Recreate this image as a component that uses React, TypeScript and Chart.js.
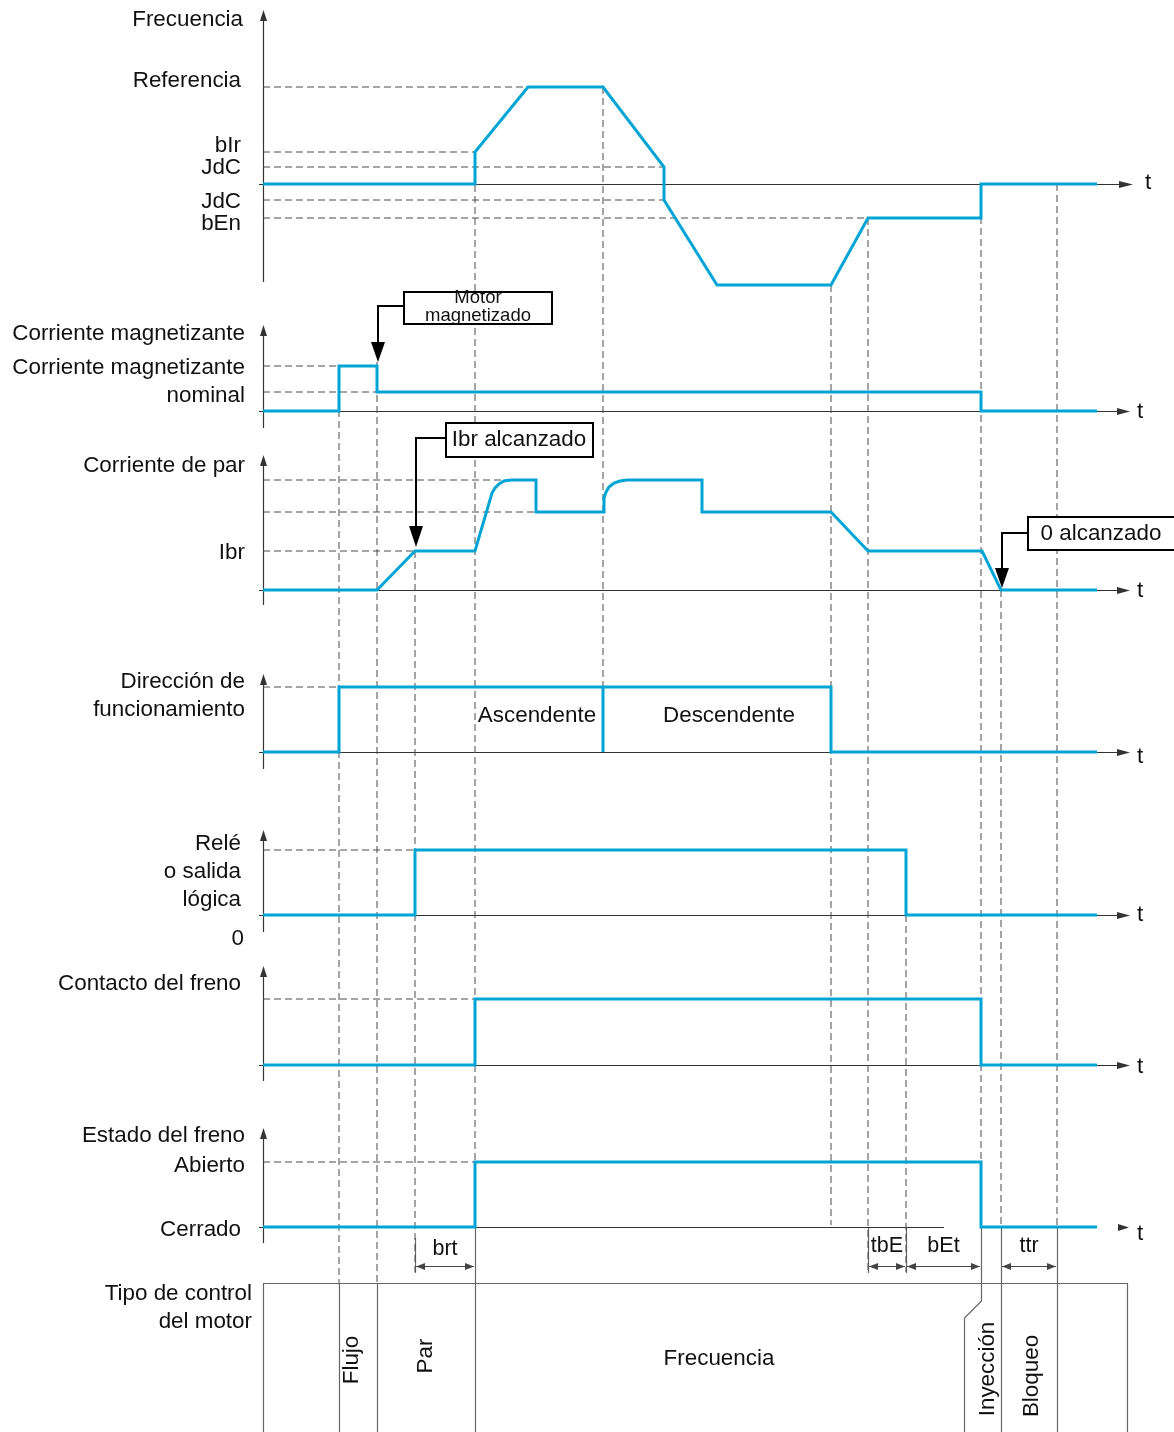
import React, { useEffect, useRef } from "react";
import { Chart, registerables } from "chart.js";
Chart.register(...registerables);

const W = 1174;
const H = 1432;
const BLUE = "#00a5d6";
const AXIS = "#333333";
const GUIDE = "#4a4a4a";
const FONT = '"Liberation Sans", Arial, Helvetica, sans-serif';
const LABEL_SIZE = 22.4;

// ---------------- data (time axis units, levels relative to each panel's zero) ----------------
const frequencyTimes = [263, 475, 475, 528, 603, 664, 664, 717, 831, 868, 981, 981, 1097];
const frequencyValues = [0, 0, 32, 97, 97, 17, -16, -101, -101, -34, -34, 0, 0];

const magnetizingTimes = [263, 339, 339, 377, 377, 981, 981, 1097];
const magnetizingValues = [0, 0, 45, 45, 19, 19, 0, 0];

const torqueTimes = [263, 377, 415, 475, 492, 495, 499, 504, 511, 536, 536, 604, 604, 606, 609, 614, 620, 627, 702, 702, 831, 868, 982, 1001, 1097];
const torqueValues = [0, 0, 39, 39, 97, 102, 106, 109, 110, 110, 78, 78, 92, 98, 103, 107, 109, 110, 110, 78, 78, 39, 39, 0, 0];

const directionTimes = [263, 339, 339, 831, 831, 1097];
const directionValues = [0, 0, 65, 65, 0, 0];
const directionChangeTimes = [603, 603];
const directionChangeValues = [65, 0];

const relayTimes = [263, 415, 415, 906, 906, 1097];
const relayValues = [0, 0, 65, 65, 0, 0];

const brakeContactTimes = [263, 475, 475, 981, 981, 1097];
const brakeContactValues = [0, 0, 66, 66, 0, 0];

const brakeStateTimes = [263, 475, 475, 981, 981, 1097];
const brakeStateValues = [0, 0, 65, 65, 0, 0];

// reference levels (dashed) per panel: level and time where the dashed guide ends
const frequencyGuideLevels = [97, 32, 17, -16, -34];
const frequencyGuideEnds = [528, 475, 664, 664, 868];
const magnetizingGuideLevels = [45, 19];
const magnetizingGuideEnds = [339, 377];
const torqueGuideLevels = [110, 78, 39];
const torqueGuideEnds = [520, 536, 415];
const directionGuideLevels = [65];
const directionGuideEnds = [339];
const relayGuideLevels = [65];
const relayGuideEnds = [415];
const brakeContactGuideLevels = [66];
const brakeContactGuideEnds = [475];
const brakeStateGuideLevels = [65];
const brakeStateGuideEnds = [475];

// event instants (vertical dashed lines)
const eventTimes = [339, 377, 415, 475, 603, 831, 868, 906, 981, 1001, 1057];

// texts
const frequencyLabels = ["Frecuencia", "Referencia", "bIr", "JdC", "JdC", "bEn"];
const magnetizingLabels = ["Corriente magnetizante", "Corriente magnetizante", "nominal"];
const torqueLabels = ["Corriente de par", "Ibr"];
const directionLabels = ["Dirección de", "funcionamiento"];
const relayLabels = ["Relé", "o salida", "lógica", "0"];
const brakeContactLabels = ["Contacto del freno"];
const brakeStateLabels = ["Estado del freno", "Abierto", "Cerrado"];
const controlLabels = ["Tipo de control", "del motor"];
const directionPhaseLabels = ["Ascendente", "Descendente"];
const dimensionLabels = ["brt", "tbE", "bEt", "ttr"];
const dimensionStarts = [415, 868, 906, 1001];
const dimensionEnds = [475, 906, 981, 1057];
const controlModeLabels = ["Flujo", "Par", "Inyección", "Bloqueo"];
const controlModeCenterLabel = "Frecuencia";
const annotationTexts = [["Motor", "magnetizado"], ["Ibr alcanzado"], ["0 alcanzado"]];

// ---------------- layout (positions only) ----------------
const AXIS_X = 263;
const panelBaselines = [184, 411, 590, 752, 915, 1065, 1227];
const axisTops = [10, 325, 455, 674, 830, 966, 1128];
const axisBottoms = [282, 428, 605, 769, 932, 1081, 1243];
const axisLineEnds = [1119, 1117, 1117, 1117, 1117, 1117, 944];
const axisArrowBase = [1119, 1117, 1117, 1117, 1117, 1117, 1118];
const axisArrowTip = [1133, 1130, 1130, 1130, 1130, 1130, 1129];
const tLabelX = [1148, 1140, 1140, 1140, 1140, 1140, 1140];
const tLabelY = [189, 418, 597, 763, 921, 1073, 1240];
const eventTops = [366, 362, 551, 152, 87, 285, 218, 915, 184, 590, 184];
const eventBottoms = [1283, 1283, 1272, 1227, 687, 1225, 1272, 1272, 1227, 1227, 1227];

const frequencyLabelPos = [[243, 26], [241, 87], [241, 152], [241, 174], [241, 208], [241, 230]];
const magnetizingLabelPos = [[245, 340], [245, 374], [245, 402]];
const torqueLabelPos = [[245, 472], [245, 559]];
const directionLabelPos = [[245, 688], [245, 716]];
const relayLabelPos = [[241, 850], [241, 878], [241, 906], [244, 945]];
const brakeContactLabelPos = [[241, 990]];
const brakeStateLabelPos = [[245, 1142], [245, 1172], [241, 1236]];
const controlLabelPos = [[252, 1300], [252, 1328]];
const directionPhasePos = [[537, 722], [729, 722]];
const dimensionY = 1266;
const dimensionLabelY = [1255, 1252, 1252, 1252];
const controlModeLabelPos = [[358, 1360], [432, 1356], [994, 1369], [1038, 1376]];
const controlModeCenterPos = [719, 1365];
const BOX_TOP = 1283;
const BOX_RIGHT = 1127;

function trace(times: number[], values: number[], panel: number) {
  return times.map((t, i) => ({ x: t, y: panelBaselines[panel] - values[i] }));
}

function traceDataset(times: number[], values: number[], panel: number) {
  return {
    data: trace(times, values, panel),
    borderColor: BLUE,
    borderWidth: 3,
    pointRadius: 0,
    fill: false,
    tension: 0,
    borderJoinStyle: "miter" as const,
    order: 1,
  };
}

function guideDatasets(levels: number[], ends: number[], panel: number) {
  return levels.map((lv, i) => ({
    data: [
      { x: AXIS_X, y: panelBaselines[panel] - lv },
      { x: ends[i], y: panelBaselines[panel] - lv },
    ],
    borderColor: GUIDE,
    borderWidth: 1,
    borderDash: [7, 4],
    pointRadius: 0,
    fill: false,
    order: 3,
  }));
}

const eventDatasets = eventTimes.map((t, i) => ({
  data: [
    { x: t, y: eventTops[i] },
    { x: t, y: eventBottoms[i] },
  ],
  borderColor: GUIDE,
  borderWidth: 1,
  borderDash: [7, 4],
  pointRadius: 0,
  fill: false,
  order: 4,
}));

function drawText(ctx: CanvasRenderingContext2D, s: string, x: number, y: number, align: CanvasTextAlign, size = LABEL_SIZE) {
  ctx.font = `${size}px ${FONT}`;
  ctx.textAlign = align;
  ctx.textBaseline = "alphabetic";
  ctx.fillStyle = "#111";
  ctx.fillText(s, x, y);
}

function tri(ctx: CanvasRenderingContext2D, pts: number[][], color: string) {
  ctx.beginPath();
  ctx.moveTo(pts[0][0], pts[0][1]);
  ctx.lineTo(pts[1][0], pts[1][1]);
  ctx.lineTo(pts[2][0], pts[2][1]);
  ctx.closePath();
  ctx.fillStyle = color;
  ctx.fill();
}

function line(ctx: CanvasRenderingContext2D, pts: number[][], color: string, w: number) {
  ctx.beginPath();
  ctx.moveTo(pts[0][0], pts[0][1]);
  for (let i = 1; i < pts.length; i++) ctx.lineTo(pts[i][0], pts[i][1]);
  ctx.strokeStyle = color;
  ctx.lineWidth = w;
  ctx.setLineDash([]);
  ctx.stroke();
}

const diagramPlugin = {
  id: "diagram",
  beforeDatasetsDraw(chart: any) {
    const ctx: CanvasRenderingContext2D = chart.ctx;
    const xs = chart.scales.x;
    const ys = chart.scales.y;
    const X = (v: number) => xs.getPixelForValue(v);
    const Y = (v: number) => ys.getPixelForValue(v);
    ctx.save();
    // panel axes
    for (let p = 0; p < panelBaselines.length; p++) {
      const ax = X(AXIS_X) + 0.5;
      line(ctx, [[ax, Y(axisTops[p]) + 8], [ax, Y(axisBottoms[p])]], AXIS, 1.2);
      tri(ctx, [[ax, Y(axisTops[p])], [ax - 3.5, Y(axisTops[p]) + 11], [ax + 3.5, Y(axisTops[p]) + 11]], AXIS);
      const by = Y(panelBaselines[p]) + 0.5;
      line(ctx, [[X(AXIS_X - 4), by], [X(axisLineEnds[p]), by]], AXIS, 1.1);
      tri(ctx, [[X(axisArrowTip[p]), by], [X(axisArrowBase[p]), by - 3.5], [X(axisArrowBase[p]), by + 3.5]], AXIS);
    }
    // bottom control box
    const gray = "#666";
    line(ctx, [[X(AXIS_X) + 0.5, Y(BOX_TOP)], [X(AXIS_X) + 0.5, Y(H)]], gray, 1.2);
    line(ctx, [[X(AXIS_X), Y(BOX_TOP) + 0.5], [X(BOX_RIGHT), Y(BOX_TOP) + 0.5]], gray, 1.2);
    line(ctx, [[X(BOX_RIGHT) + 0.5, Y(BOX_TOP)], [X(BOX_RIGHT) + 0.5, Y(H)]], gray, 1.2);
    const boxLines = [339, 377];
    boxLines.forEach((t) => line(ctx, [[X(t) + 0.5, Y(BOX_TOP)], [X(t) + 0.5, Y(H)]], gray, 1.2));
    [475, 1001, 1057].forEach((t) => line(ctx, [[X(t) + 0.5, Y(1227)], [X(t) + 0.5, Y(H)]], gray, 1.2));
    line(ctx, [[X(981) + 0.5, Y(1227)], [X(981) + 0.5, Y(1301)], [X(964) + 0.5, Y(1318)], [X(964) + 0.5, Y(H)]], gray, 1.2);
    // dimension extension lines
    [[415, 1238], [868, 1228], [906, 1228]].forEach(([t, top]) => line(ctx, [[X(t) + 0.5, Y(top)], [X(t) + 0.5, Y(1273)]], gray, 1.2));
    // dimension arrows
    for (let i = 0; i < dimensionLabels.length; i++) {
      const a = X(dimensionStarts[i]) + 1;
      const b = X(dimensionEnds[i]) - 1;
      const y = Y(dimensionY) + 0.5;
      line(ctx, [[a, y], [b, y]], "#444", 1);
      tri(ctx, [[a, y], [a + 9, y - 3.5], [a + 9, y + 3.5]], "#444");
      tri(ctx, [[b, y], [b - 9, y - 3.5], [b - 9, y + 3.5]], "#444");
      drawText(ctx, dimensionLabels[i], (a + b) / 2, Y(dimensionLabelY[i]), "center", 21.5);
    }
    ctx.restore();
  },
  afterDatasetsDraw(chart: any) {
    const ctx: CanvasRenderingContext2D = chart.ctx;
    const xs = chart.scales.x;
    const ys = chart.scales.y;
    const X = (v: number) => xs.getPixelForValue(v);
    const Y = (v: number) => ys.getPixelForValue(v);
    ctx.save();
    const groups: [string[], number[][]][] = [
      [frequencyLabels, frequencyLabelPos],
      [magnetizingLabels, magnetizingLabelPos],
      [torqueLabels, torqueLabelPos],
      [directionLabels, directionLabelPos],
      [relayLabels, relayLabelPos],
      [brakeContactLabels, brakeContactLabelPos],
      [brakeStateLabels, brakeStateLabelPos],
      [controlLabels, controlLabelPos],
    ];
    groups.forEach(([labels, pos]) => labels.forEach((s, i) => drawText(ctx, s, X(pos[i][0]), Y(pos[i][1]), "right")));
    directionPhaseLabels.forEach((s, i) => drawText(ctx, s, X(directionPhasePos[i][0]), Y(directionPhasePos[i][1]), "center"));
    for (let p = 0; p < panelBaselines.length; p++) drawText(ctx, "t", X(tLabelX[p]), Y(tLabelY[p]), "center");
    drawText(ctx, controlModeCenterLabel, X(controlModeCenterPos[0]), Y(controlModeCenterPos[1]), "center");
    controlModeLabels.forEach((s, i) => {
      ctx.save();
      ctx.translate(X(controlModeLabelPos[i][0]), Y(controlModeLabelPos[i][1]));
      ctx.rotate(-Math.PI / 2);
      drawText(ctx, s, 0, 0, "center");
      ctx.restore();
    });
    // annotation boxes
    ctx.lineWidth = 2;
    ctx.strokeStyle = "#000";
    ctx.setLineDash([]);
    // Motor magnetizado
    ctx.fillStyle = "#fff";
    ctx.fillRect(X(404), Y(292), X(552) - X(404), Y(324) - Y(292));
    ctx.strokeRect(X(404), Y(292), X(552) - X(404), Y(324) - Y(292));
    drawText(ctx, annotationTexts[0][0], X(478), Y(303), "center", 18.5);
    drawText(ctx, annotationTexts[0][1], X(478), Y(321), "center", 18.5);
    line(ctx, [[X(404), Y(306)], [X(378), Y(306)], [X(378), Y(344)]], "#000", 2);
    tri(ctx, [[X(378), Y(362)], [X(371), Y(342)], [X(385), Y(342)]], "#000");
    // Ibr alcanzado
    ctx.fillStyle = "#fff";
    ctx.fillRect(X(446), Y(423), X(593) - X(446), Y(457) - Y(423));
    ctx.strokeRect(X(446), Y(423), X(593) - X(446), Y(457) - Y(423));
    drawText(ctx, annotationTexts[1][0], X(519), Y(446), "center");
    line(ctx, [[X(446), Y(438)], [X(416), Y(438)], [X(416), Y(528)]], "#000", 2);
    tri(ctx, [[X(416), Y(547)], [X(409), Y(526)], [X(423), Y(526)]], "#000");
    // 0 alcanzado
    ctx.fillStyle = "#fff";
    ctx.fillRect(X(1028), Y(517), X(1182) - X(1028), Y(550) - Y(517));
    ctx.strokeRect(X(1028), Y(517), X(1182) - X(1028), Y(550) - Y(517));
    drawText(ctx, annotationTexts[2][0], X(1101), Y(540), "center");
    line(ctx, [[X(1028), Y(533)], [X(1002), Y(533)], [X(1002), Y(570)]], "#000", 2);
    tri(ctx, [[X(1002), Y(588)], [X(995), Y(568)], [X(1009), Y(568)]], "#000");
    ctx.restore();
  },
};

export default function App() {
  const ref = useRef<HTMLCanvasElement>(null);
  useEffect(() => {
    document.body.style.margin = "0";
    const datasets: any[] = [
      traceDataset(frequencyTimes, frequencyValues, 0),
      traceDataset(magnetizingTimes, magnetizingValues, 1),
      traceDataset(torqueTimes, torqueValues, 2),
      traceDataset(directionTimes, directionValues, 3),
      traceDataset(directionChangeTimes, directionChangeValues, 3),
      traceDataset(relayTimes, relayValues, 4),
      traceDataset(brakeContactTimes, brakeContactValues, 5),
      traceDataset(brakeStateTimes, brakeStateValues, 6),
      ...guideDatasets(frequencyGuideLevels, frequencyGuideEnds, 0),
      ...guideDatasets(magnetizingGuideLevels, magnetizingGuideEnds, 1),
      ...guideDatasets(torqueGuideLevels, torqueGuideEnds, 2),
      ...guideDatasets(directionGuideLevels, directionGuideEnds, 3),
      ...guideDatasets(relayGuideLevels, relayGuideEnds, 4),
      ...guideDatasets(brakeContactGuideLevels, brakeContactGuideEnds, 5),
      ...guideDatasets(brakeStateGuideLevels, brakeStateGuideEnds, 6),
      ...eventDatasets,
    ];
    const chart = new Chart(ref.current as HTMLCanvasElement, {
      type: "line",
      data: { datasets },
      options: {
        animation: false,
        responsive: false,
        devicePixelRatio: 1,
        events: [],
        layout: { padding: 0 },
        plugins: { legend: { display: false }, tooltip: { enabled: false } },
        scales: {
          x: { type: "linear", min: 0, max: W, display: false },
          y: { type: "linear", min: 0, max: H, reverse: true, display: false },
        },
        elements: { line: { borderCapStyle: "butt" } },
      },
      plugins: [diagramPlugin],
    } as any);
    return () => chart.destroy();
  }, []);
  return <canvas ref={ref} width={W} height={H} style={{ display: "block", width: W, height: H, background: "#fff" }} />;
}
